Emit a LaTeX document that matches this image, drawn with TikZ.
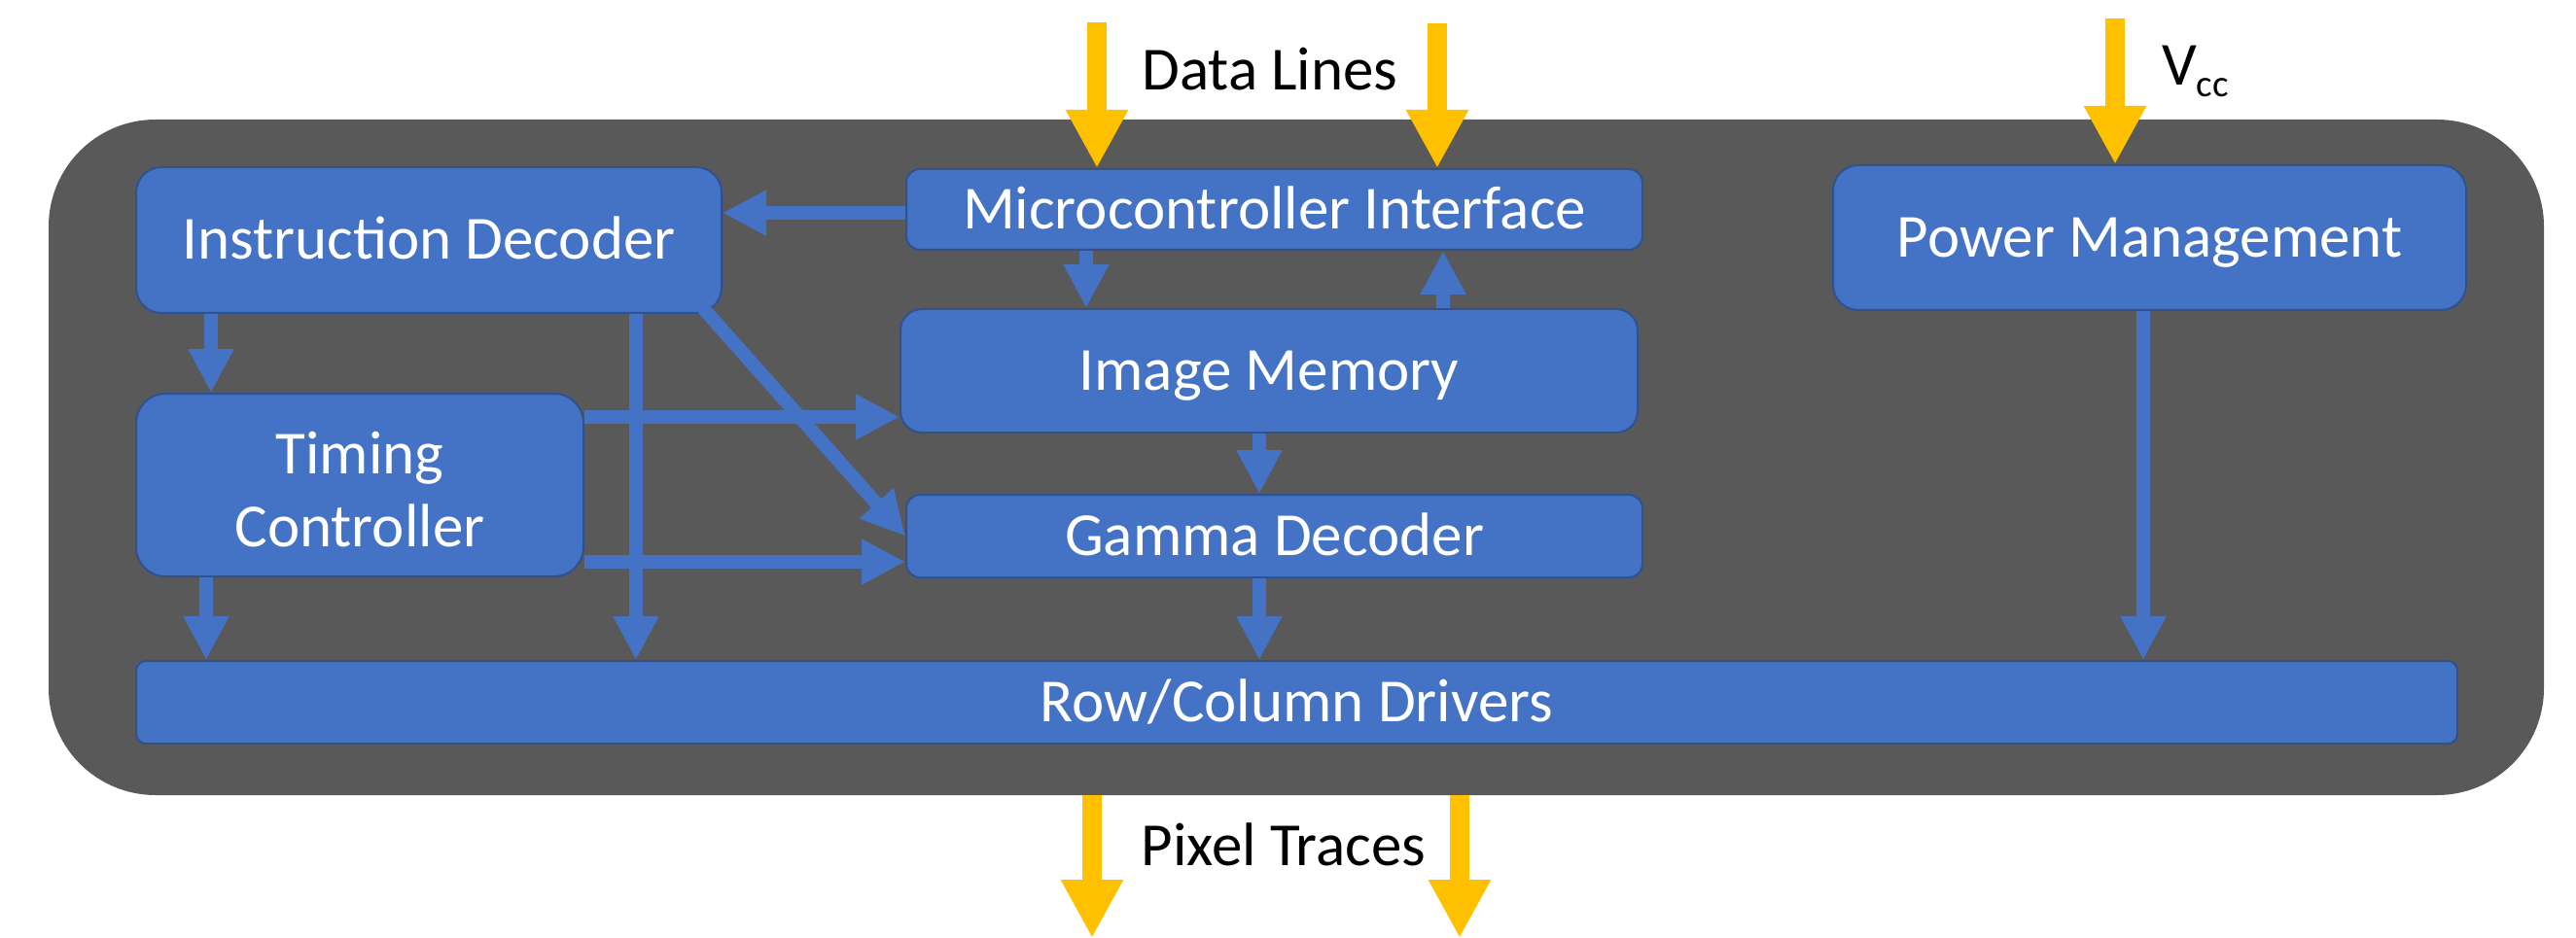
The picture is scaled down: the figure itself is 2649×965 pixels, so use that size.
\documentclass[tikz,border=0pt]{standalone}
\usepackage{fontspec}
\setmainfont{Carlito}
\usetikzlibrary{arrows.meta}
\definecolor{chipgray}{HTML}{595959}
\definecolor{blk}{HTML}{4472C4}
\definecolor{blkline}{HTML}{2F528F}
\definecolor{gold}{HTML}{FFC000}
\tikzset{
  blockbox/.style={draw=blkline, line width=2pt, fill=blk, text=white, inner sep=0pt,
    font=\fontsize{63}{75}\selectfont, text height=40pt, text depth=0pt},
  flow/.style={draw=blk, line width=14pt, -{Triangle[length=45pt,width=44pt]}},
  feed/.style={draw=gold, line width=20pt, -{Triangle[length=60pt,width=60pt]}},
  lbl/.style={font=\fontsize{63}{75}\selectfont, text=black, inner sep=0pt}
}
\begin{document}
\begin{tikzpicture}[x=1pt,y=-1pt]
\useasboundingbox (0,0) rectangle (2649,965);
\node[fill=chipgray, rounded corners=110pt, minimum width=2566pt, minimum height=695pt, inner sep=0pt] (chip) at (1333,470.5) {};

\node[blockbox, rounded corners=26pt, minimum width=602pt, minimum height=150pt] (ID) at (441,247) {Instruction Decoder};
\node[blockbox, rounded corners=30pt, minimum width=460pt, minimum height=188pt, align=center, text height=127pt] (TC) at (370,499) {Timing\\Controller};
\node[blockbox, rounded corners=14pt, minimum width=757pt, minimum height=83pt] (MI) at (1310.5,215.5) {Microcontroller Interface};
\node[blockbox, rounded corners=22pt, minimum width=758pt, minimum height=127pt] (IM) at (1305,381.5) {Image Memory};
\node[blockbox, rounded corners=14pt, minimum width=757pt, minimum height=85pt] (GD) at (1310.5,551.5) {Gamma Decoder};
\node[blockbox, rounded corners=26pt, minimum width=651pt, minimum height=149pt] (PM) at (2210.5,244.5) {Power Management};
\node[blockbox, rounded corners=10pt, minimum width=2387pt, minimum height=85pt] (RCD) at (1333.5,722.5) {Row/Column Drivers};

\coordinate (xa) at (217,0);
\coordinate (xb) at (212,0);
\coordinate (xc) at (654,0);
\coordinate (xd) at (1117,0);
\coordinate (xe) at (1484,0);
\coordinate (xf) at (1295,0);
\coordinate (xg) at (2204,0);
\coordinate (ya) at (0,219);
\coordinate (yb) at (0,429);
\coordinate (yc) at (0,578);
\coordinate (d1) at (1128,23);
\coordinate (d2) at (1478,24);
\coordinate (v1) at (2175,19);
\coordinate (p1) at (1123,965);
\coordinate (p2) at (1501,965);

\draw[flow] (MI.west |- ya) -- (ID.east |- ya);
\draw[flow] (ID.south -| xa) -- (TC.north -| xa);
\draw[flow] (TC.south -| xb) -- (RCD.north -| xb);
\draw[flow] (ID.south -| xc) -- (RCD.north -| xc);
\draw[flow] ([shift={(-20,-6)}]ID.south east) -- (GD.west);
\draw[flow] (TC.east |- yb) -- (IM.west |- yb);
\draw[flow] (TC.east |- yc) -- (GD.west |- yc);
\draw[flow] (MI.south -| xd) -- (IM.north -| xd);
\draw[flow] (IM.north -| xe) -- (MI.south -| xe);
\draw[flow] (IM.south -| xf) -- (GD.north -| xf);
\draw[flow] (GD.south -| xf) -- (RCD.north -| xf);
\draw[flow] (PM.south -| xg) -- (RCD.north -| xg);

\draw[feed] (d1) -- (MI.north -| d1);
\draw[feed] (d2) -- (MI.north -| d2);
\draw[feed] (v1) -- (PM.north -| v1);
\draw[feed] (chip.south -| p1) -- (p1);
\draw[feed] (chip.south -| p2) -- (p2);

\node[lbl, anchor=base] (dl) at (1306,93) {Data Lines};
\node[lbl, anchor=base] (pt) at (1320,890) {Pixel Traces};
\node[lbl, anchor=base west] (vcc) at (2223,88) {V\raisebox{-12pt}{\fontsize{39}{39}\selectfont cc}};
\end{tikzpicture}
\end{document}
